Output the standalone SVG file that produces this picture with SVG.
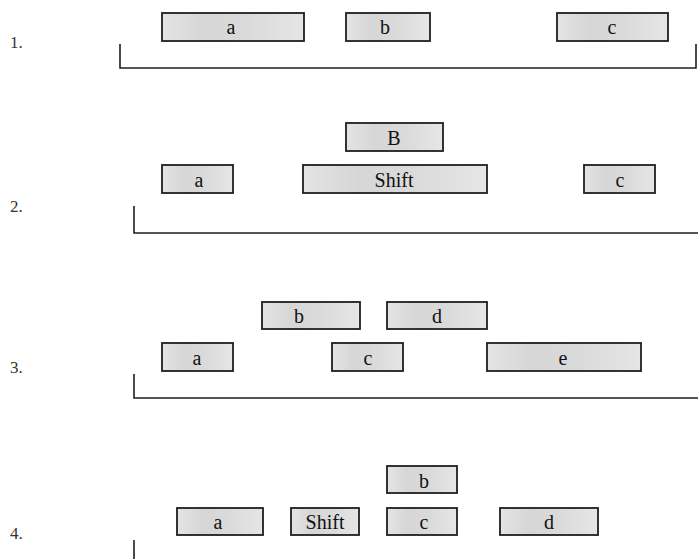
<svg xmlns="http://www.w3.org/2000/svg" width="698" height="559" viewBox="0 0 698 559">
<defs>
<linearGradient id="g" x1="0" y1="0" x2="1" y2="0">
<stop offset="0" stop-color="#e4e4e4"/>
<stop offset="0.3" stop-color="#d6d6d6"/>
<stop offset="0.6" stop-color="#dadada"/>
<stop offset="1" stop-color="#e6e6e6"/>
</linearGradient>
<style>
.box{fill:url(#g);stroke:#1e1e1e;stroke-width:1.8}
.t{font-family:"Liberation Serif",serif;font-size:20px;fill:#111;text-anchor:middle}
.n{font-family:"Liberation Serif",serif;font-size:17px;fill:#333}
.br{fill:none;stroke:#1e1e1e;stroke-width:1.6}
</style>
</defs>
<rect width="698" height="559" fill="#ffffff"/>
<g id="labels">
<text class="n" x="10" y="48">1.</text>
<text class="n" x="10" y="212">2.</text>
<text class="n" x="10" y="373">3.</text>
<text class="n" x="10" y="539">4.</text>
</g>
<g id="connectors">
<path class="br" d="M120,44 V68 H696 V44"/>
<path class="br" d="M134,206 V233 H698"/>
<path class="br" d="M134,374 V398 H698"/>
<path class="br" d="M134,540 V559"/>
</g>
<g id="r1a"><rect class="box" x="162" y="13" width="142" height="28"/><text class="t" x="231" y="34">a</text></g>
<g id="r1b"><rect class="box" x="346" y="13" width="84" height="28"/><text class="t" x="385" y="34">b</text></g>
<g id="r1c"><rect class="box" x="557" y="13" width="111" height="28"/><text class="t" x="612" y="34">c</text></g>
<g id="r2B"><rect class="box" x="346" y="123" width="97" height="28"/><text class="t" x="394" y="145">B</text></g>
<g id="r2a"><rect class="box" x="162" y="165" width="71" height="28"/><text class="t" x="199" y="187">a</text></g>
<g id="r2shift"><rect class="box" x="303" y="165" width="184" height="28"/><text class="t" x="394" y="187">Shift</text></g>
<g id="r2c"><rect class="box" x="584" y="165" width="71" height="28"/><text class="t" x="620" y="187">c</text></g>
<g id="r3b"><rect class="box" x="262" y="302" width="98" height="27"/><text class="t" x="299" y="323">b</text></g>
<g id="r3d"><rect class="box" x="387" y="302" width="100" height="27"/><text class="t" x="437" y="323">d</text></g>
<g id="r3a"><rect class="box" x="162" y="343" width="71" height="28"/><text class="t" x="197" y="365">a</text></g>
<g id="r3c"><rect class="box" x="332" y="343" width="71" height="28"/><text class="t" x="368" y="365">c</text></g>
<g id="r3e"><rect class="box" x="487" y="343" width="154" height="28"/><text class="t" x="563" y="365">e</text></g>
<g id="r4b"><rect class="box" x="387" y="466" width="70" height="27"/><text class="t" x="424" y="488">b</text></g>
<g id="r4a"><rect class="box" x="177" y="508" width="86" height="27"/><text class="t" x="218" y="529">a</text></g>
<g id="r4shift"><rect class="box" x="291" y="508" width="68" height="27"/><text class="t" x="325" y="529">Shift</text></g>
<g id="r4c"><rect class="box" x="387" y="508" width="70" height="27"/><text class="t" x="424" y="529">c</text></g>
<g id="r4d"><rect class="box" x="500" y="508" width="98" height="27"/><text class="t" x="549" y="529">d</text></g>
</svg>
